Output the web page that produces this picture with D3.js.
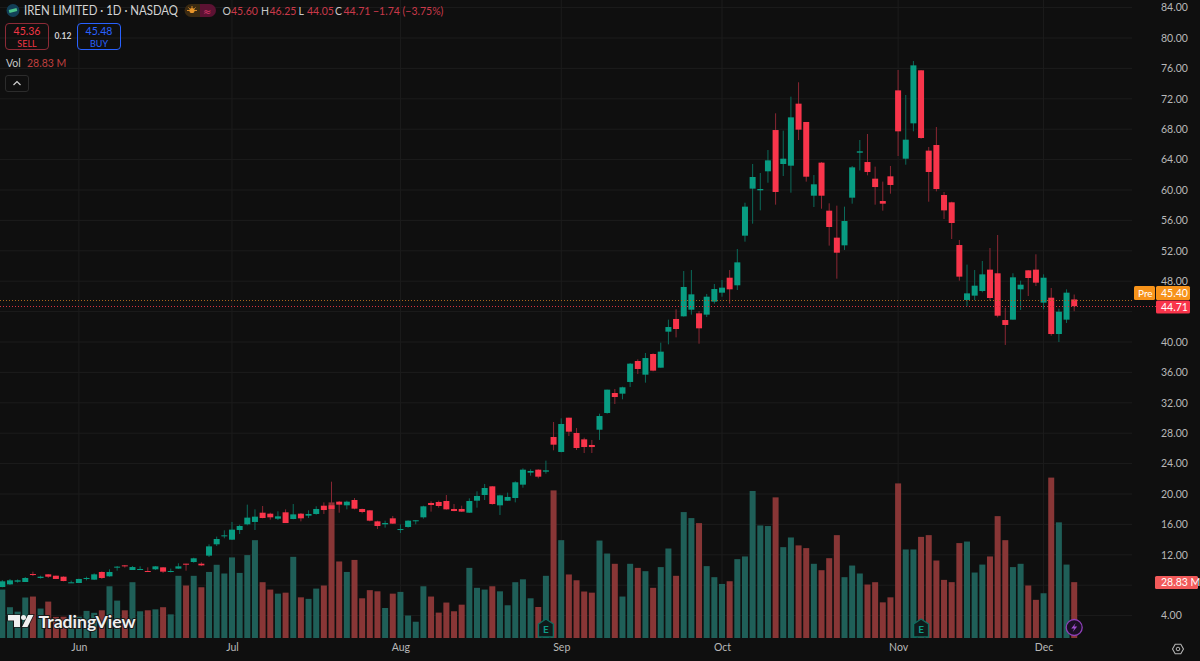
<!DOCTYPE html>
<html lang="en">
    <head>
        <title>IREN Limited daily chart</title>
        <meta charset="utf-8" />
        <script src="https://d3js.org/d3.v7.min.js"></script>
        <style>
            html, body { margin: 0; padding: 0; background: #0f0f0f; overflow: hidden; }
            svg { display: block; font-family: Lato, sans-serif; }
            .domain { display: none; }
            .tick line { display: none; }
        </style>
    </head>
    <body>
        <div id="graph"></div>
        <script>
            // daily candles, 16 May to 5 Dec 2025
            var opens = [7.76,8.11,8.46,8.42,9.47,8.95,9.43,9.25,9.12,8.29,
                8.29,8.82,8.73,9.74,9.17,10.35,10.61,10.00,10.04,9.87,
                10.09,10.35,9.78,10.18,10.83,11.05,10.83,11.89,13.38,14.47,
                13.99,15.26,16.01,16.32,17.54,17.41,16.75,17.59,16.71,17.41,
                17.15,17.37,18.46,18.51,18.99,18.51,19.21,18.03,17.85,16.40,
                16.01,16.80,15.26,15.66,16.45,16.93,18.82,18.95,19.08,18.03,
                18.03,17.54,19.12,19.87,21.01,18.51,19.12,19.47,21.23,22.81,
                23.20,22.94,27.50,25.53,30.04,28.03,27.19,26.45,28.46,30.66,
                33.29,33.20,34.74,37.50,35.70,38.42,36.62,41.36,43.03,43.38,
                44.25,43.77,43.60,45.31,46.49,48.46,47.46,53.99,60.18,59.96,
                62.46,67.89,63.42,63.20,71.36,68.95,59.25,63.60,57.28,53.73,
                52.72,58.99,64.91,63.68,61.49,58.55,61.80,73.11,64.12,68.77,
                75.75,65.18,65.92,59.34,58.38,52.76,45.53,46.10,46.71,49.52,
                49.04,42.89,42.94,46.93,49.43,49.52,45.18,45.83,41.05,42.94,
                45.60];
            var highs = [8.68,8.82,8.77,9.08,9.78,9.25,9.47,9.25,9.17,8.60,
                8.86,9.12,9.56,9.82,10.09,10.53,10.66,10.53,10.48,10.35,
                10.53,10.39,10.18,10.88,10.83,11.62,11.01,13.38,14.39,15.22,
                16.32,15.96,18.60,17.98,18.42,17.54,17.72,17.98,18.68,17.50,
                17.85,18.38,18.90,21.62,19.08,19.12,19.47,18.07,17.89,16.49,
                16.49,17.11,16.01,16.54,16.54,18.46,19.04,19.12,19.87,18.68,
                18.46,19.43,20.35,21.32,21.05,19.91,20.18,21.67,23.38,23.25,
                23.25,24.39,29.47,29.96,30.04,28.68,27.41,27.11,30.57,33.73,
                33.82,34.12,37.24,37.72,38.55,38.51,39.91,42.94,44.30,49.34,
                49.47,44.08,46.32,47.63,48.16,49.47,52.24,58.33,63.42,62.24,
                65.26,70.09,67.81,72.28,74.17,68.95,61.97,63.68,58.25,57.94,
                57.81,63.16,66.58,67.37,63.07,61.10,63.16,75.79,72.50,76.97,
                75.79,65.66,68.29,59.74,58.46,53.42,50.18,49.47,50.66,52.37,
                54.08,44.52,49.04,48.07,49.47,51.54,48.90,47.11,44.39,46.93,
                46.25];
            var lows = [7.72,8.03,8.33,8.42,9.21,8.86,8.95,8.82,8.51,8.29,
                8.29,8.64,8.68,8.82,9.12,9.91,10.31,10.00,10.00,9.74,
                10.00,9.61,9.69,10.13,9.91,10.96,10.53,11.71,13.16,14.17,
                13.95,14.74,15.88,15.26,16.80,16.62,16.58,16.18,16.67,16.40,
                16.84,17.28,17.37,17.98,17.54,17.98,17.98,17.46,16.40,15.39,
                15.57,16.05,14.87,15.57,16.01,16.75,17.68,18.20,17.94,17.72,
                17.63,17.50,18.20,19.21,18.60,17.24,19.08,18.90,20.83,22.41,
                22.06,22.68,25.75,25.48,27.63,25.79,25.39,25.39,27.11,30.57,
                31.84,32.46,34.08,35.79,34.65,36.14,36.62,39.69,40.61,43.33,
                43.60,39.78,43.29,45.04,45.96,45.04,46.84,53.20,55.57,57.32,
                60.96,58.07,61.84,59.65,66.58,61.10,57.76,57.54,52.68,48.33,
                52.11,58.20,62.57,61.93,58.07,57.28,59.52,64.47,63.33,67.72,
                66.75,58.46,59.82,56.18,53.55,48.07,44.69,45.48,46.54,45.44,
                43.25,39.61,42.94,44.21,46.05,47.37,44.30,40.83,40.00,42.50,
                44.05];
            var closes = [8.51,8.64,8.64,8.95,9.34,9.12,9.12,8.82,8.55,8.38,
                8.82,8.95,9.43,8.95,9.74,10.44,10.48,10.39,10.13,9.78,
                10.48,9.78,9.87,10.48,10.70,11.54,10.61,13.11,14.08,14.56,
                15.31,15.79,16.89,17.02,16.84,16.93,17.06,16.18,17.32,16.80,
                17.37,18.03,17.89,18.03,18.60,18.99,18.07,17.63,16.49,15.79,
                16.18,16.10,15.39,16.49,16.54,18.38,18.55,18.42,17.98,17.76,
                17.68,19.08,19.74,20.79,18.68,19.82,19.61,21.54,23.20,23.03,
                22.28,23.11,26.49,29.21,28.20,26.05,26.18,26.18,30.26,33.73,
                32.76,34.04,37.15,36.45,37.89,36.23,38.73,41.97,41.71,47.24,
                46.27,41.80,45.96,46.97,47.15,46.93,50.48,57.81,61.71,60.13,
                63.90,59.74,64.12,69.56,67.94,61.75,60.75,59.25,55.13,51.75,
                55.92,62.98,65.09,62.37,60.39,58.20,60.66,67.72,66.62,76.40,
                66.84,62.37,60.13,57.32,55.66,48.60,46.40,47.41,48.90,45.79,
                43.46,42.24,48.51,47.54,48.42,47.81,48.46,41.05,43.99,46.49,
                44.71];
            // volume in millions
            var volumes = [25.0,15.9,13.6,20.9,21.4,15.2,18.8,10.9,11.0,11.0,
                11.0,14.0,13.0,14.3,26.7,19.3,14.3,28.8,13.8,14.3,
                14.8,15.9,12.2,32.1,27.1,32.1,26.2,34.1,37.8,33.3,
                41.6,33.6,42.8,50.5,28.8,25.0,22.9,23.4,41.9,21.0,
                20.2,25.5,27.1,70.0,39.5,34.1,40.3,20.5,24.7,24.1,
                15.5,22.9,23.8,11.6,8.4,26.7,21.4,13.1,18.3,13.8,
                17.2,36.2,25.9,25.0,26.7,24.1,16.9,28.8,30.3,20.5,
                16.0,32.1,76.2,50.5,32.8,29.8,24.0,23.4,50.3,43.6,
                38.3,21.4,38.3,36.2,34.5,25.9,36.6,46.2,32.1,65.0,
                61.9,59.3,37.1,31.4,27.9,29.3,40.7,42.1,75.9,58.1,
                57.8,72.6,46.9,51.9,47.8,46.4,38.3,35.0,41.2,53.1,
                31.4,37.4,33.3,27.6,28.8,18.4,21.0,79.8,45.7,45.7,
                52.2,53.1,40.0,30.0,28.83,49.0,49.8,33.8,37.9,42.1,
                62.9,50.5,36.6,38.3,27.1,19.7,23.1,82.8,59.7,37.9,
                28.83];

            var priceTicks = d3.range(4, 88, 4);
            // these two labels sit under the last price and volume tags
            var coveredTicks = [8, 44];
            var monthIdx = [10, 30, 52, 73, 94, 117, 136];
            var monthNames = ["Jun", "Jul", "Aug", "Sep", "Oct", "Nov", "Dec"];
            var earningsIdx = [71, 120];
            var dividendIdx = 140;
            var lastClose = 44.71;
            var prePrice = 45.40;

            var green = "#089c82", red = "#f9354b";
            var greenWick = "#0b6a5a", redWick = "#8a2733";
            var greenVol = "#1f5f58", redVol = "#883636";
            var gridCol = "#1c1c1c", axisText = "#b8b8b8";

            var width = 1200, height = 661;
            var svg = d3.select("#graph").append("svg")
                .attr("width", width)
                .attr("height", height);

            svg.append("rect").attr("width", width).attr("height", height).attr("fill", "#0f0f0f");

            var x = d3.scaleLinear().domain([0, 140]).range([2.3, 1074.2]);
            var y = d3.scaleLinear().domain([4, 84]).range([615.6, 7.6]);
            var yVol = d3.scaleLinear().domain([0, 82.8]).range([638, 477.6]);

            // grid
            svg.append("g").selectAll("line").data(priceTicks).enter().append("line")
                .attr("x1", 0).attr("x2", 1132)
                .attr("y1", d => y(d)).attr("y2", d => y(d))
                .attr("stroke", gridCol);
            svg.append("g").selectAll("line").data(monthIdx).enter().append("line")
                .attr("x1", d => x(d)).attr("x2", d => x(d))
                .attr("y1", 0).attr("y2", 638)
                .attr("stroke", gridCol);

            // axes
            var yAxis = svg.append("g").attr("transform", "translate(1152,0)")
                .call(d3.axisRight(y)
                    .tickValues(priceTicks.filter(d => !coveredTicks.includes(d)))
                    .tickSize(0).tickPadding(9).tickFormat(d3.format(".2f")));
            yAxis.selectAll("text").attr("fill", axisText).attr("font-size", 10.5).attr("font-family", "Lato");

            var xAxis = svg.append("g").attr("transform", "translate(0,638)")
                .call(d3.axisBottom(x).tickValues(monthIdx).tickSize(0).tickPadding(6).tickFormat((d, i) => monthNames[i]));
            xAxis.selectAll("text").attr("fill", axisText).attr("font-size", 10.5).attr("font-family", "Lato");

            var days = d3.range(opens.length);
            var isUp = i => closes[i] >= opens[i];

            // volume
            svg.append("g").selectAll("rect").data(days).enter().append("rect")
                .attr("x", d => x(d) - 3)
                .attr("width", 6)
                .attr("y", d => yVol(volumes[d]))
                .attr("height", d => yVol(0) - yVol(volumes[d]))
                .attr("fill", d => isUp(d) ? greenVol : redVol);

            // candles
            var candle = svg.append("g").selectAll("g").data(days).enter().append("g");
            candle.append("line")
                .attr("x1", d => x(d)).attr("x2", d => x(d))
                .attr("y1", d => y(highs[d])).attr("y2", d => y(lows[d]))
                .attr("stroke", d => isUp(d) ? greenWick : redWick);
            candle.append("rect")
                .attr("x", d => x(d) - 3)
                .attr("width", 6)
                .attr("y", d => y(Math.max(opens[d], closes[d])))
                .attr("height", d => Math.max(1, Math.abs(y(opens[d]) - y(closes[d]))))
                .attr("fill", d => isUp(d) ? green : red);

            // price lines, snapped to a pixel row so the dots stay crisp
            svg.append("line").attr("x1", 0).attr("x2", 1134)
                .attr("y1", Math.floor(y(prePrice)) + 0.5).attr("y2", Math.floor(y(prePrice)) + 0.5)
                .attr("stroke", "#a8661c").attr("stroke-dasharray", "1 2");
            svg.append("line").attr("x1", 0).attr("x2", 1156)
                .attr("y1", Math.floor(y(lastClose)) + 0.5).attr("y2", Math.floor(y(lastClose)) + 0.5)
                .attr("stroke", "#d8303f").attr("stroke-dasharray", "1 2");

            function tag(x0, y0, w, h, fill, label, tx, size) {
                svg.append("rect").attr("x", x0).attr("y", y0).attr("width", w).attr("height", h)
                    .attr("rx", 1.5).attr("fill", fill);
                svg.append("text").attr("x", tx).attr("y", y0 + h / 2 + 3.8)
                    .attr("fill", "#fff").attr("font-size", size || 10.5).text(label);
            }
            tag(1134, 286, 21, 14, "#f7931a", "Pre", 1138, 10);
            tag(1156, 286, 34, 14, "#f7931a", d3.format(".2f")(prePrice), 1161);
            tag(1156, 300.5, 34, 13, red, d3.format(".2f")(lastClose), 1161);
            tag(1155, 576, 43, 13, "#f25a5a", "28.83 M", 1161, 10.5);

            // header
            svg.append("circle").attr("cx", 13).attr("cy", 10.5).attr("r", 6.5).attr("fill", "#123f57");
            svg.append("rect").attr("x", 9).attr("y", 9).attr("width", 8).attr("height", 3)
                .attr("transform", "rotate(-15 13 10.5)").attr("fill", "#4cc38a");
            svg.append("text").attr("x", 24).attr("y", 15).attr("fill", "#d4d4d4").attr("font-size", 12.5)
                .attr("textLength", 154).attr("lengthAdjust", "spacingAndGlyphs")
                .text("IREN LIMITED · 1D · NASDAQ");

            svg.append("path").attr("d", "M206 4H191a6.5 6.5 0 0 0 0 13H206Z").attr("fill", "#3b2a12");
            svg.append("path").attr("d", "M200 4H209.5a6.5 6.5 0 0 1 0 13H200Z").attr("fill", "#5c1233");
            svg.append("circle").attr("cx", 192).attr("cy", 10.5).attr("r", 2.6).attr("fill", "#e8952a");
            svg.append("path").attr("d", "M187 10.5H197 M192 6V8 M188.5 7.5L189.8 8.8 M195.5 7.5L194.2 8.8")
                .attr("stroke", "#e8952a").attr("stroke-width", 0.9);
            svg.append("text").attr("x", 203).attr("y", 14.5).attr("fill", "#d93a6a")
                .attr("font-family", "DejaVu Sans").attr("font-size", 10).text("≈");

            var ohlcLetters = ["O", "H", "L", "C"];
            var ohlcValues = ["45.60", "46.25", "44.05", "44.71"];
            var letterX = [222.5, 261, 298.5, 335];
            ohlcLetters.forEach(function (l, i) {
                svg.append("text").attr("x", letterX[i]).attr("y", 15).attr("fill", "#c8c8c8")
                    .attr("font-size", 10.5).text(l);
                svg.append("text").attr("x", letterX[i] + 8.5).attr("y", 15).attr("fill", "#c9394a")
                    .attr("font-size", 10.5).text(ohlcValues[i]);
            });
            svg.append("text").attr("x", 373).attr("y", 15).attr("fill", "#c9394a")
                .attr("font-size", 10.5).text("−1.74 (−3.75%)");

            function tradeBox(x0, col, border, price, label) {
                svg.append("rect").attr("x", x0 + 0.5).attr("y", 23.5).attr("width", 43).attr("height", 26)
                    .attr("rx", 3.5).attr("fill", "none").attr("stroke", border);
                svg.append("text").attr("x", x0 + 22).attr("y", 35).attr("text-anchor", "middle")
                    .attr("fill", col).attr("font-size", 10.5).text(price);
                svg.append("text").attr("x", x0 + 22).attr("y", 46.5).attr("text-anchor", "middle")
                    .attr("fill", col).attr("font-size", 9).text(label);
            }
            tradeBox(5, "#f23645", "#8c2b37", "45.36", "SELL");
            tradeBox(77, "#2962ff", "#2962ff", "45.48", "BUY");
            svg.append("text").attr("x", 63).attr("y", 39).attr("text-anchor", "middle")
                .attr("fill", "#d0d0d0").attr("font-size", 8.5).attr("font-weight", 700).text("0.12");

            svg.append("text").attr("x", 6).attr("y", 67).attr("fill", "#c8c8c8").attr("font-size", 10.5).text("Vol");
            svg.append("text").attr("x", 27).attr("y", 67).attr("fill", "#c0403f").attr("font-size", 10.5).text("28.83 M");

            svg.append("rect").attr("x", 5.5).attr("y", 75.5).attr("width", 23).attr("height", 16)
                .attr("rx", 2.5).attr("fill", "none").attr("stroke", "#2c2c2c");
            svg.append("path").attr("d", "M13.5 85L17 81.5L20.5 85").attr("fill", "none")
                .attr("stroke", "#d0d0d0").attr("stroke-width", 1.2);

            // earnings and dividend markers on the time axis
            svg.append("g").selectAll("g").data(earningsIdx).enter().append("g")
                .attr("transform", d => "translate(" + x(d) + ",0)")
                .each(function () {
                    var g = d3.select(this);
                    g.append("path").attr("d", "M0 619L7.5 624V637H-7.5V624Z")
                        .attr("fill", "#0f1a1a").attr("stroke", "#0f6d60").attr("stroke-width", 1.4);
                    g.append("text").attr("y", 632.5).attr("text-anchor", "middle")
                        .attr("fill", "#0f9c86").attr("font-size", 10).attr("font-weight", 700).text("E");
                });
            var bolt = svg.append("g").attr("transform", "translate(" + x(dividendIdx) + ",627.5)");
            bolt.append("circle").attr("r", 8).attr("fill", "#1a0f24").attr("stroke", "#8e3fb8").attr("stroke-width", 1.3);
            bolt.append("path").attr("d", "M1.5 -4.5L-3 1H0L-1.5 4.5L3 -1H0Z").attr("fill", "#a04fd0");

            // settings icon
            svg.append("path").attr("d", "M1172.5 649L1175.2 644.2H1180.8L1183.5 649L1180.8 653.8H1175.2Z")
                .attr("fill", "none").attr("stroke", "#b4b4b4").attr("stroke-width", 1.1);
            svg.append("circle").attr("cx", 1178).attr("cy", 649).attr("r", 1.8)
                .attr("fill", "none").attr("stroke", "#b4b4b4");

            // watermark
            var mark = svg.append("g");
            mark.append("path").attr("d", "M8 615H20V627H14V620.5H8Z M28 615H33.5L27.5 627H22Z")
                .attr("fill", "#f0f0f0").attr("stroke", "#1a1a1a").attr("stroke-width", 1.5).attr("paint-order", "stroke");
            mark.append("circle").attr("cx", 23.5).attr("cy", 617.5).attr("r", 2.5).attr("fill", "#f0f0f0");
            mark.append("text").attr("x", 38.5).attr("y", 628).attr("fill", "#f0f0f0")
                .attr("font-size", 17.5).attr("font-weight", 700)
                .attr("stroke", "#1a1a1a").attr("stroke-width", 2).attr("paint-order", "stroke")
                .attr("textLength", 97).attr("lengthAdjust", "spacingAndGlyphs")
                .text("TradingView");
        </script>
    </body>
</html>
